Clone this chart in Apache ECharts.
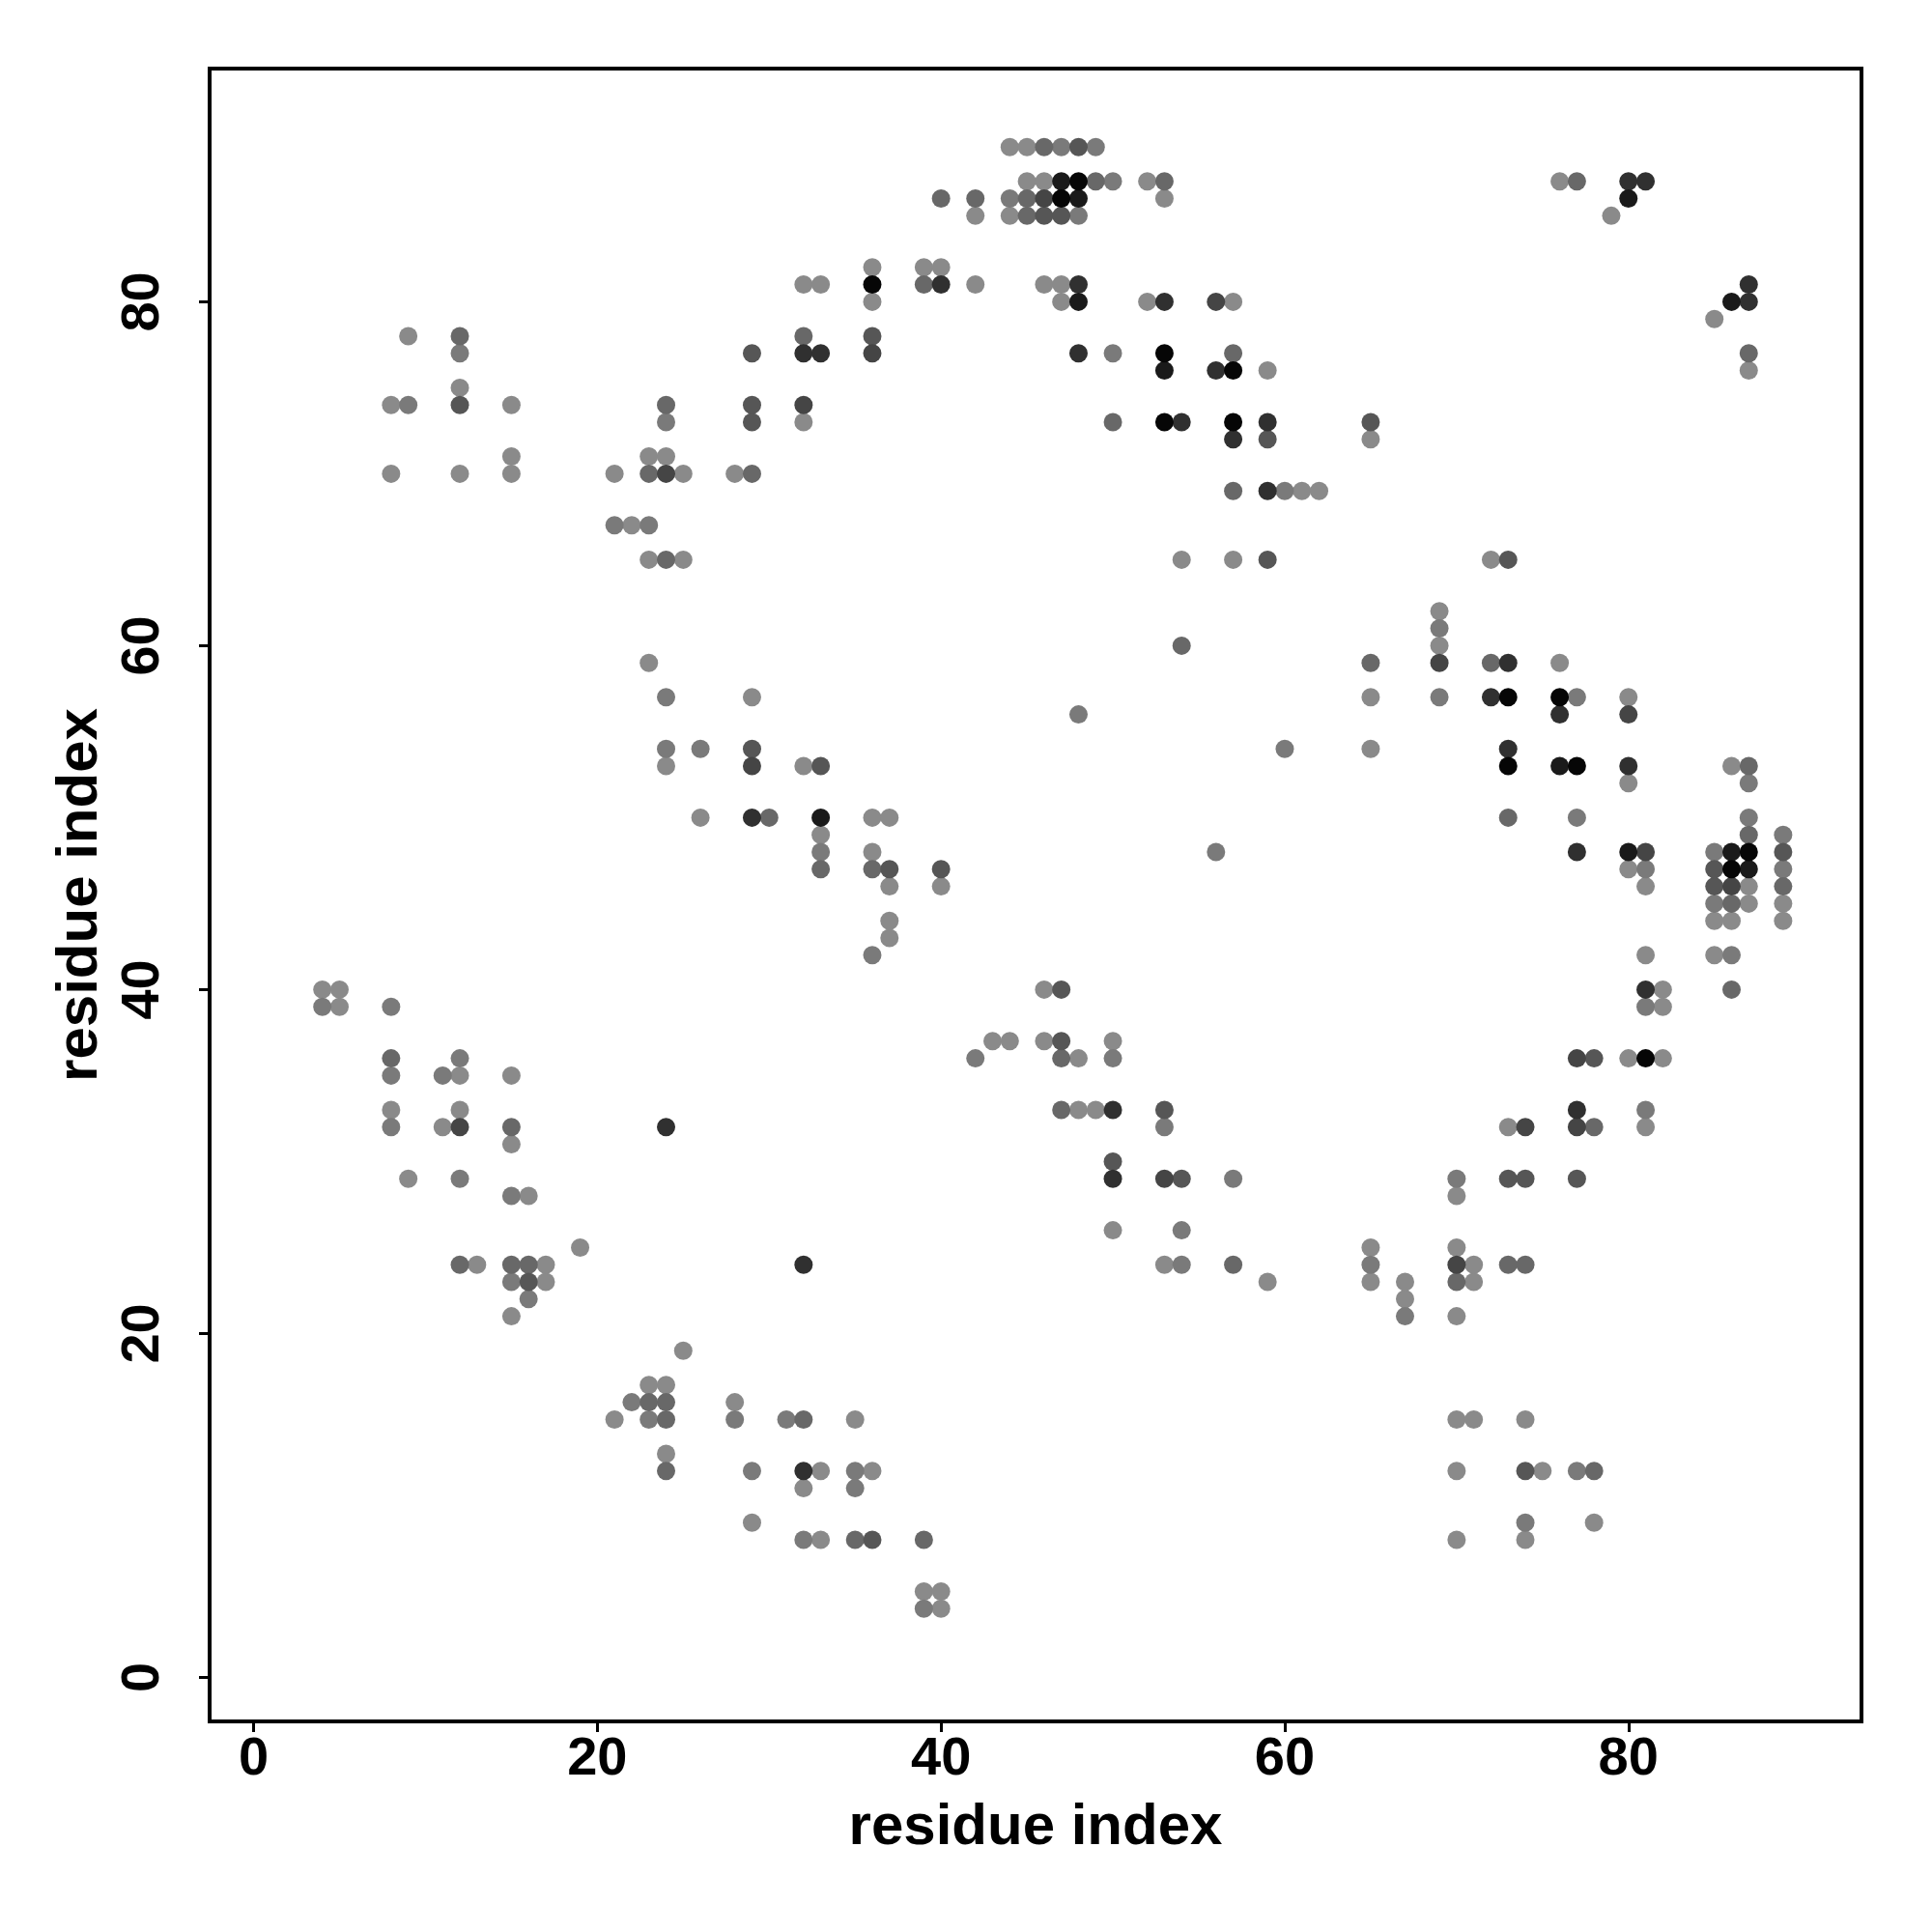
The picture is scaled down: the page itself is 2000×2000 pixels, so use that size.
<!DOCTYPE html>
<html>
<head>
<meta charset="utf-8">
<script src="https://cdn.jsdelivr.net/npm/echarts@6/dist/echarts.min.js"></script>
<style>html,body{margin:0;padding:0;background:#fff}#chart{width:2000px;height:2000px}</style>
</head>
<body>
<div id="chart"></div>
<script>
// Contact map: [residue i, residue j] pairs grouped by contact frequency level (1 = lightest, 8 = darkest)
const tickValues = [0, 20, 40, 60, 80];
const axisTitle = 'residue index';

const level1 = [[4,40],[5,39],[5,40],[8,33],[8,70],[8,74],[9,29],[9,78],[11,32],[12,33],[12,35],[12,70],[12,75],[13,24],[15,21],[15,31],[15,35],[15,70],[15,71],[15,74],[16,28],[17,23],[17,24],[19,25],[21,70],[22,67],[23,59],[23,65],[23,71],[24,53],[24,71],[25,65],[25,70],[26,50],[28,70],[29,57],[32,53],[32,73],[32,81],[33,49],[33,81],[36,48],[36,50],[36,80],[36,82],[37,43],[37,44],[37,46],[37,50],[39,82],[40,46],[40,82],[42,81],[42,85],[44,85],[44,89],[45,87],[45,89],[46,81],[46,87],[47,80],[47,81],[52,80],[52,87],[53,86],[54,65],[57,65],[57,80],[59,76],[61,69],[62,69],[65,72],[76,87],[79,85],
  [21,15],[23,17],[24,13],[24,17],[25,19],[28,16],[29,9],[32,11],[33,8],[33,12],[35,15],[36,12],[39,5],[40,4],[40,5],[43,37],[44,37],[46,37],[46,40],[48,33],[48,36],[49,33],[50,26],[50,37],[53,24],[59,23],[65,23],[65,25],[65,54],[65,57],[67,22],[67,23],[69,60],[69,62],[70,8],[70,12],[70,15],[70,21],[70,25],[70,28],[71,15],[71,23],[71,24],[72,65],[73,32],[74,8],[74,15],[75,12],[76,59],[78,9],[80,36],[80,47],[80,52],[80,57],[81,32],[81,42],[81,46],[82,36],[82,39],[82,40],[85,42],[85,44],[85,79],[86,44],[86,53],[87,45],[87,46],[87,76],[89,44],[89,45]];
const level2 = [[4,39],[8,32],[8,35],[8,39],[9,74],[11,35],[12,29],[12,36],[12,77],[15,23],[15,28],[16,22],[21,67],[23,67],[24,54],[24,57],[24,73],[26,54],[33,48],[36,42],[44,86],[47,89],[48,56],[48,85],[49,89],[50,77],[50,87],[60,69],
  [22,16],[23,15],[28,15],[29,12],[31,15],[32,8],[35,11],[35,12],[39,4],[42,36],[50,36],[53,32],[54,24],[54,26],[56,48],[57,29],[60,54],[65,24],[67,21],[69,57],[69,61],[70,29],[74,9],[77,12],[77,50],[77,57],[81,33],[81,39],[81,47],[85,45],[85,48],[86,42],[87,50],[87,52],[89,47],[89,49]];
const level3 = [[8,36],[12,24],[12,78],[15,24],[15,32],[16,24],[23,70],[24,65],[24,74],[29,70],[30,50],[32,78],[33,47],[36,47],[39,81],[40,86],[42,86],[45,85],[45,86],[46,89],[49,87],[50,73],[53,87],[54,60],[57,69],[57,77],[77,87],
  [23,16],[24,12],[24,15],[24,16],[32,15],[35,8],[39,8],[47,33],[47,36],[57,24],[65,59],[70,23],[72,59],[73,24],[73,50],[74,24],[78,12],[78,32],[86,40],[86,45],[87,49],[87,53],[87,77],[89,46]];
const level4 = [[12,74],[16,23],[29,54],[29,73],[29,74],[29,77],[33,53],[36,78],[37,47],[40,47],[46,85],[47,85],[48,89],[59,65],[59,72],[65,73],
  [36,8],[47,37],[47,40],[50,30],[53,33],[54,29],[73,29],[73,65],[74,12],[74,29],[77,29],[78,36],[85,46],[85,47],[89,48]];
const level5 = [[12,32],[24,70],[29,53],[32,74],[36,77],[46,86],[56,80],
  [53,29],[69,59],[70,24],[74,32],[77,32],[77,36],[80,56],[81,48],[86,46]];
const level6 = [[24,32],[29,50],[32,77],[33,77],[40,81],[48,77],[48,81],[53,80],[54,73],[56,76],[57,72],[59,69],[59,73],[80,87],[81,87],
  [32,12],[32,24],[50,29],[50,33],[72,57],[73,54],[73,59],[76,56],[77,33],[77,48],[80,53],[81,40],[87,80],[87,81]];
const level7 = [[33,50],[47,87],[48,80],[48,86],[53,76],[80,86],
  [76,53],[80,48],[86,48],[86,80],[87,47]];
const level8 = [[36,81],[47,86],[48,87],[53,73],[53,77],[57,73],[57,76],
  [73,53],[73,57],[76,57],[77,53],[81,36],[86,47],[87,48]];

const levels = [level1, level2, level3, level4, level5, level6, level7, level8];
const levelColors = ['#8a8a8a', '#7a7a7a', '#686868', '#565656', '#454545', '#303030', '#1a1a1a', '#060606'];

const font = '"Liberation Sans", Arial, Helvetica, sans-serif';

function makeAxis(isY) {
  return {
    type: 'value',
    min: -2.56,
    max: 93.56,
    name: axisTitle,
    nameLocation: 'middle',
    nameGap: isY ? 103 : 80,
    nameTextStyle: { fontFamily: font, fontWeight: 'bold', fontSize: 60, color: '#000' },
    axisLine: { show: false, onZero: false },
    splitLine: { show: false },
    axisTick: {
      show: true, inside: false, length: 11,
      customValues: tickValues,
      lineStyle: { color: '#000', width: 3 }
    },
    axisLabel: {
      show: true,
      customValues: tickValues,
      rotate: isY ? 90 : 0,
      margin: isY ? 40 : 12,
      fontFamily: font, fontWeight: 'bold', fontSize: 56, color: '#000',
      hideOverlap: false
    }
  };
}

const chart = echarts.init(document.getElementById('chart'), null, { renderer: 'canvas', width: 2000, height: 2000 });
chart.setOption({
  animation: false,
  backgroundColor: '#fff',
  grid: {
    left: 217, right: 73, top: 71, bottom: 218,
    show: true, borderColor: '#000', borderWidth: 4, backgroundColor: 'transparent',
    outerBoundsMode: 'none', containLabel: false
  },
  xAxis: makeAxis(false),
  yAxis: makeAxis(true),
  series: levels.map((pts, k) => ({
    type: 'scatter',
    data: pts,
    symbol: 'circle',
    symbolSize: 19,
    itemStyle: { color: levelColors[k], opacity: 1 },
    emphasis: { disabled: true },
    silent: true,
    z: 2 + k
  }))
});
</script>
</body>
</html>
